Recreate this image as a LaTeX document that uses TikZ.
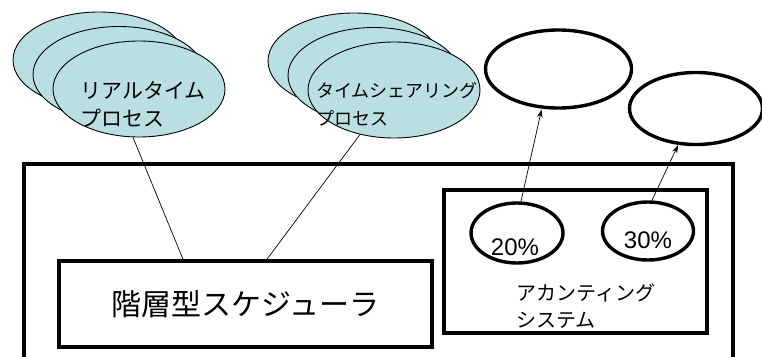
\documentclass[tikz,border=0pt]{standalone}
\usepackage{fontspec}
\setmainfont{Liberation Sans}
\newfontfamily\jp{Noto Sans CJK JP}
\usetikzlibrary{shapes.geometric,arrows.meta}
\definecolor{procblue}{HTML}{BADFE3}
\tikzset{
  heavybox/.style={draw=black, line width=3.6pt, rectangle, inner sep=0pt},
  proc/.style={draw=black, line width=0.9pt, fill=procblue, ellipse, inner sep=0pt, minimum width=172pt, minimum height=96pt},
  ring/.style={draw=black, line width=3.4pt, ellipse, inner sep=0pt},
  link/.style={draw=black, line width=0.7pt},
  arr/.style={link, -{Stealth[length=8pt,width=5.5pt]}},
  lbl/.style={inner sep=0pt, font=\jp, text=black}
}
\begin{document}
\begin{tikzpicture}[x=1pt,y=-1pt]
\useasboundingbox (0,0) rectangle (762,356);
\clip (0,0) rectangle (762,356);
% outer box
\node[heavybox, minimum width=709pt, minimum height=216pt] (sys) at (378.5,272) {};
% scheduler
\node[heavybox, minimum width=373pt, minimum height=86pt, font=\jp\fontsize{30}{32}\selectfont] (sched) at (245.5,304) {階層型スケジューラ};
% accounting system
\node[heavybox, minimum width=263pt, minimum height=143pt] (acct) at (575.5,261.5) {};
\node[lbl, anchor=west, align=left, font=\jp\fontsize{20}{27}\selectfont] (accttext) at (516,306) {アカンティング\\システム};
% share ellipses
\node[ring, minimum width=92pt, minimum height=60pt] (p20) at (517,233) {};
\node[ring, minimum width=91pt, minimum height=58pt] (p30) at (648,231) {};
\node[inner sep=0pt, font=\fontsize{24}{26}\selectfont] (t20) at (515,247) {20\%};
\node[inner sep=0pt, font=\fontsize{24}{26}\selectfont] (t30) at (648,240) {30\%};
% top right ellipses
\node[ring, minimum width=146pt, minimum height=78pt] (g1) at (558.5,69) {};
\node[ring, minimum width=133pt, minimum height=72pt] (g2) at (696,108.5) {};
% real-time processes
\node[proc] (rt3) at (99,60) {};
\node[proc] (rt2) at (119,74.5) {};
\node[proc] (rt1) at (139,89) {};
\node[lbl, anchor=west, align=left, font=\jp\fontsize{21}{28}\selectfont] (rttext) at (80,104) {リアルタイム\\プロセス};
% time-sharing processes
\node[proc] (ts3) at (354,61) {};
\node[proc] (ts2) at (374,75.5) {};
\node[proc] (ts1) at (394,90) {};
\node[lbl, anchor=west, align=left, font=\jp\fontsize{18}{28}\selectfont] (tstext) at (316,104) {タイムシェアリング\\プロセス};
% connectors
\draw[link] ([xshift=-6pt]rt1.south) -- ([xshift=-62.5pt]sched.north);
\draw[link] ([xshift=-34pt,yshift=4pt]ts1.south) -- ([xshift=21.5pt]sched.north);
\draw[arr] ([xshift=4pt]p20.north) -- ([xshift=-17pt]g1.south);
\draw[arr] ([xshift=4pt]p30.north) -- ([xshift=-18pt,yshift=1pt]g2.south);
\end{tikzpicture}
\end{document}
